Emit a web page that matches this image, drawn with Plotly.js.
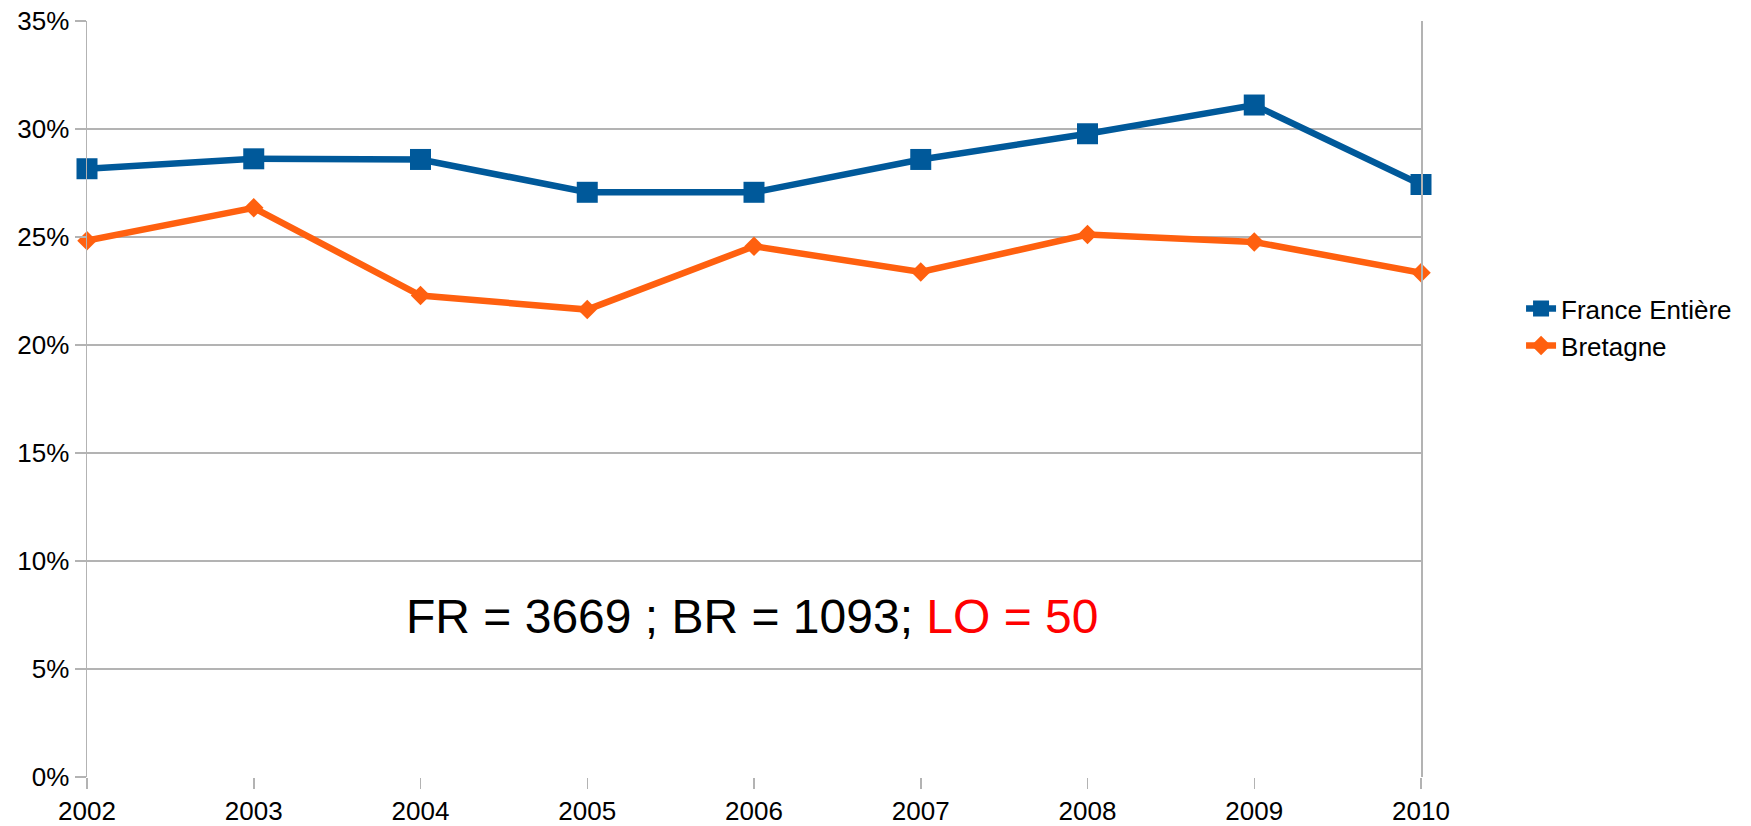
<!DOCTYPE html>
<html><head><meta charset="utf-8">
<script src="https://cdn.plot.ly/plotly-3.0.1.min.js"></script>
<style>html,body{margin:0;padding:0;background:#fff}#chart{width:1751px;height:826px}</style>
</head><body><div id="chart"></div>
<script>
const years = [2002, 2003, 2004, 2005, 2006, 2007, 2008, 2009, 2010];
const franceEntiere = [0.2816, 0.2862, 0.2859, 0.2707, 0.2707, 0.2859, 0.2978, 0.3111, 0.2743];
const bretagne = [0.2483, 0.2635, 0.2229, 0.2164, 0.2457, 0.2338, 0.2511, 0.2477, 0.2334];
const seriesNames = ['France Entière', 'Bretagne'];
const annotationParts = ['FR = 3669 ; BR = 1093; ', 'LO = 50'];

const font = 'Liberation Sans, Arial, sans-serif';
const traces = [
  {x: years, y: franceEntiere, name: seriesNames[0], legendgroup: 'a', type: 'scatter', mode: 'lines+markers',
   cliponaxis: false,
   line: {color: '#00599a', width: 6.5}, marker: {symbol: 'square', size: 21, color: '#00599a'}},
  {x: years, y: bretagne, name: seriesNames[1], legendgroup: 'b', type: 'scatter', mode: 'lines+markers',
   cliponaxis: false,
   line: {color: '#ff600f', width: 6.5}, marker: {symbol: 'diamond', size: 15, color: '#ff600f'}}
];
const layout = {
  width: 1751, height: 826,
  margin: {l: 87, r: 330, t: 21, b: 49},
  paper_bgcolor: '#fff', plot_bgcolor: '#fff',
  font: {family: font, size: 26, color: '#000'},
  xaxis: {range: [2002, 2010], tickmode: 'linear', tick0: 2002, dtick: 1, showgrid: false,
          zeroline: false, showline: false, ticks: 'outside', ticklen: 11, tickcolor: '#b3b3b3',
          tickwidth: 1.5, tickfont: {family: font, size: 26, color: '#000'}},
  yaxis: {range: [0, 0.35], dtick: 0.05, tickformat: '.0%', showgrid: true, gridcolor: '#b3b3b3',
          gridwidth: 1.5, zeroline: false, showline: true, mirror: true, linecolor: '#b3b3b3', linewidth: 1.5,
          ticks: 'outside', ticklen: 11, tickcolor: '#b3b3b3', tickwidth: 1.5,
          tickfont: {family: font, size: 26, color: '#000'}},
  legend: {x: 1.075, y: 0.595, xanchor: 'left', yanchor: 'middle', font: {family: font, size: 26, color: '#000'},
           itemwidth: 30, tracegroupgap: 0, bgcolor: 'rgba(0,0,0,0)'},
  annotations: [{x: 2005.985, y: 0.0745, xref: 'x', yref: 'y', showarrow: false,
    text: annotationParts[0] + '<span style="color:#ff0000">' + annotationParts[1] + '</span>',
    font: {family: font, size: 48, color: '#000'}}]
};
Plotly.newPlot('chart', traces, layout, {displayModeBar: false, staticPlot: true});
</script></body></html>
